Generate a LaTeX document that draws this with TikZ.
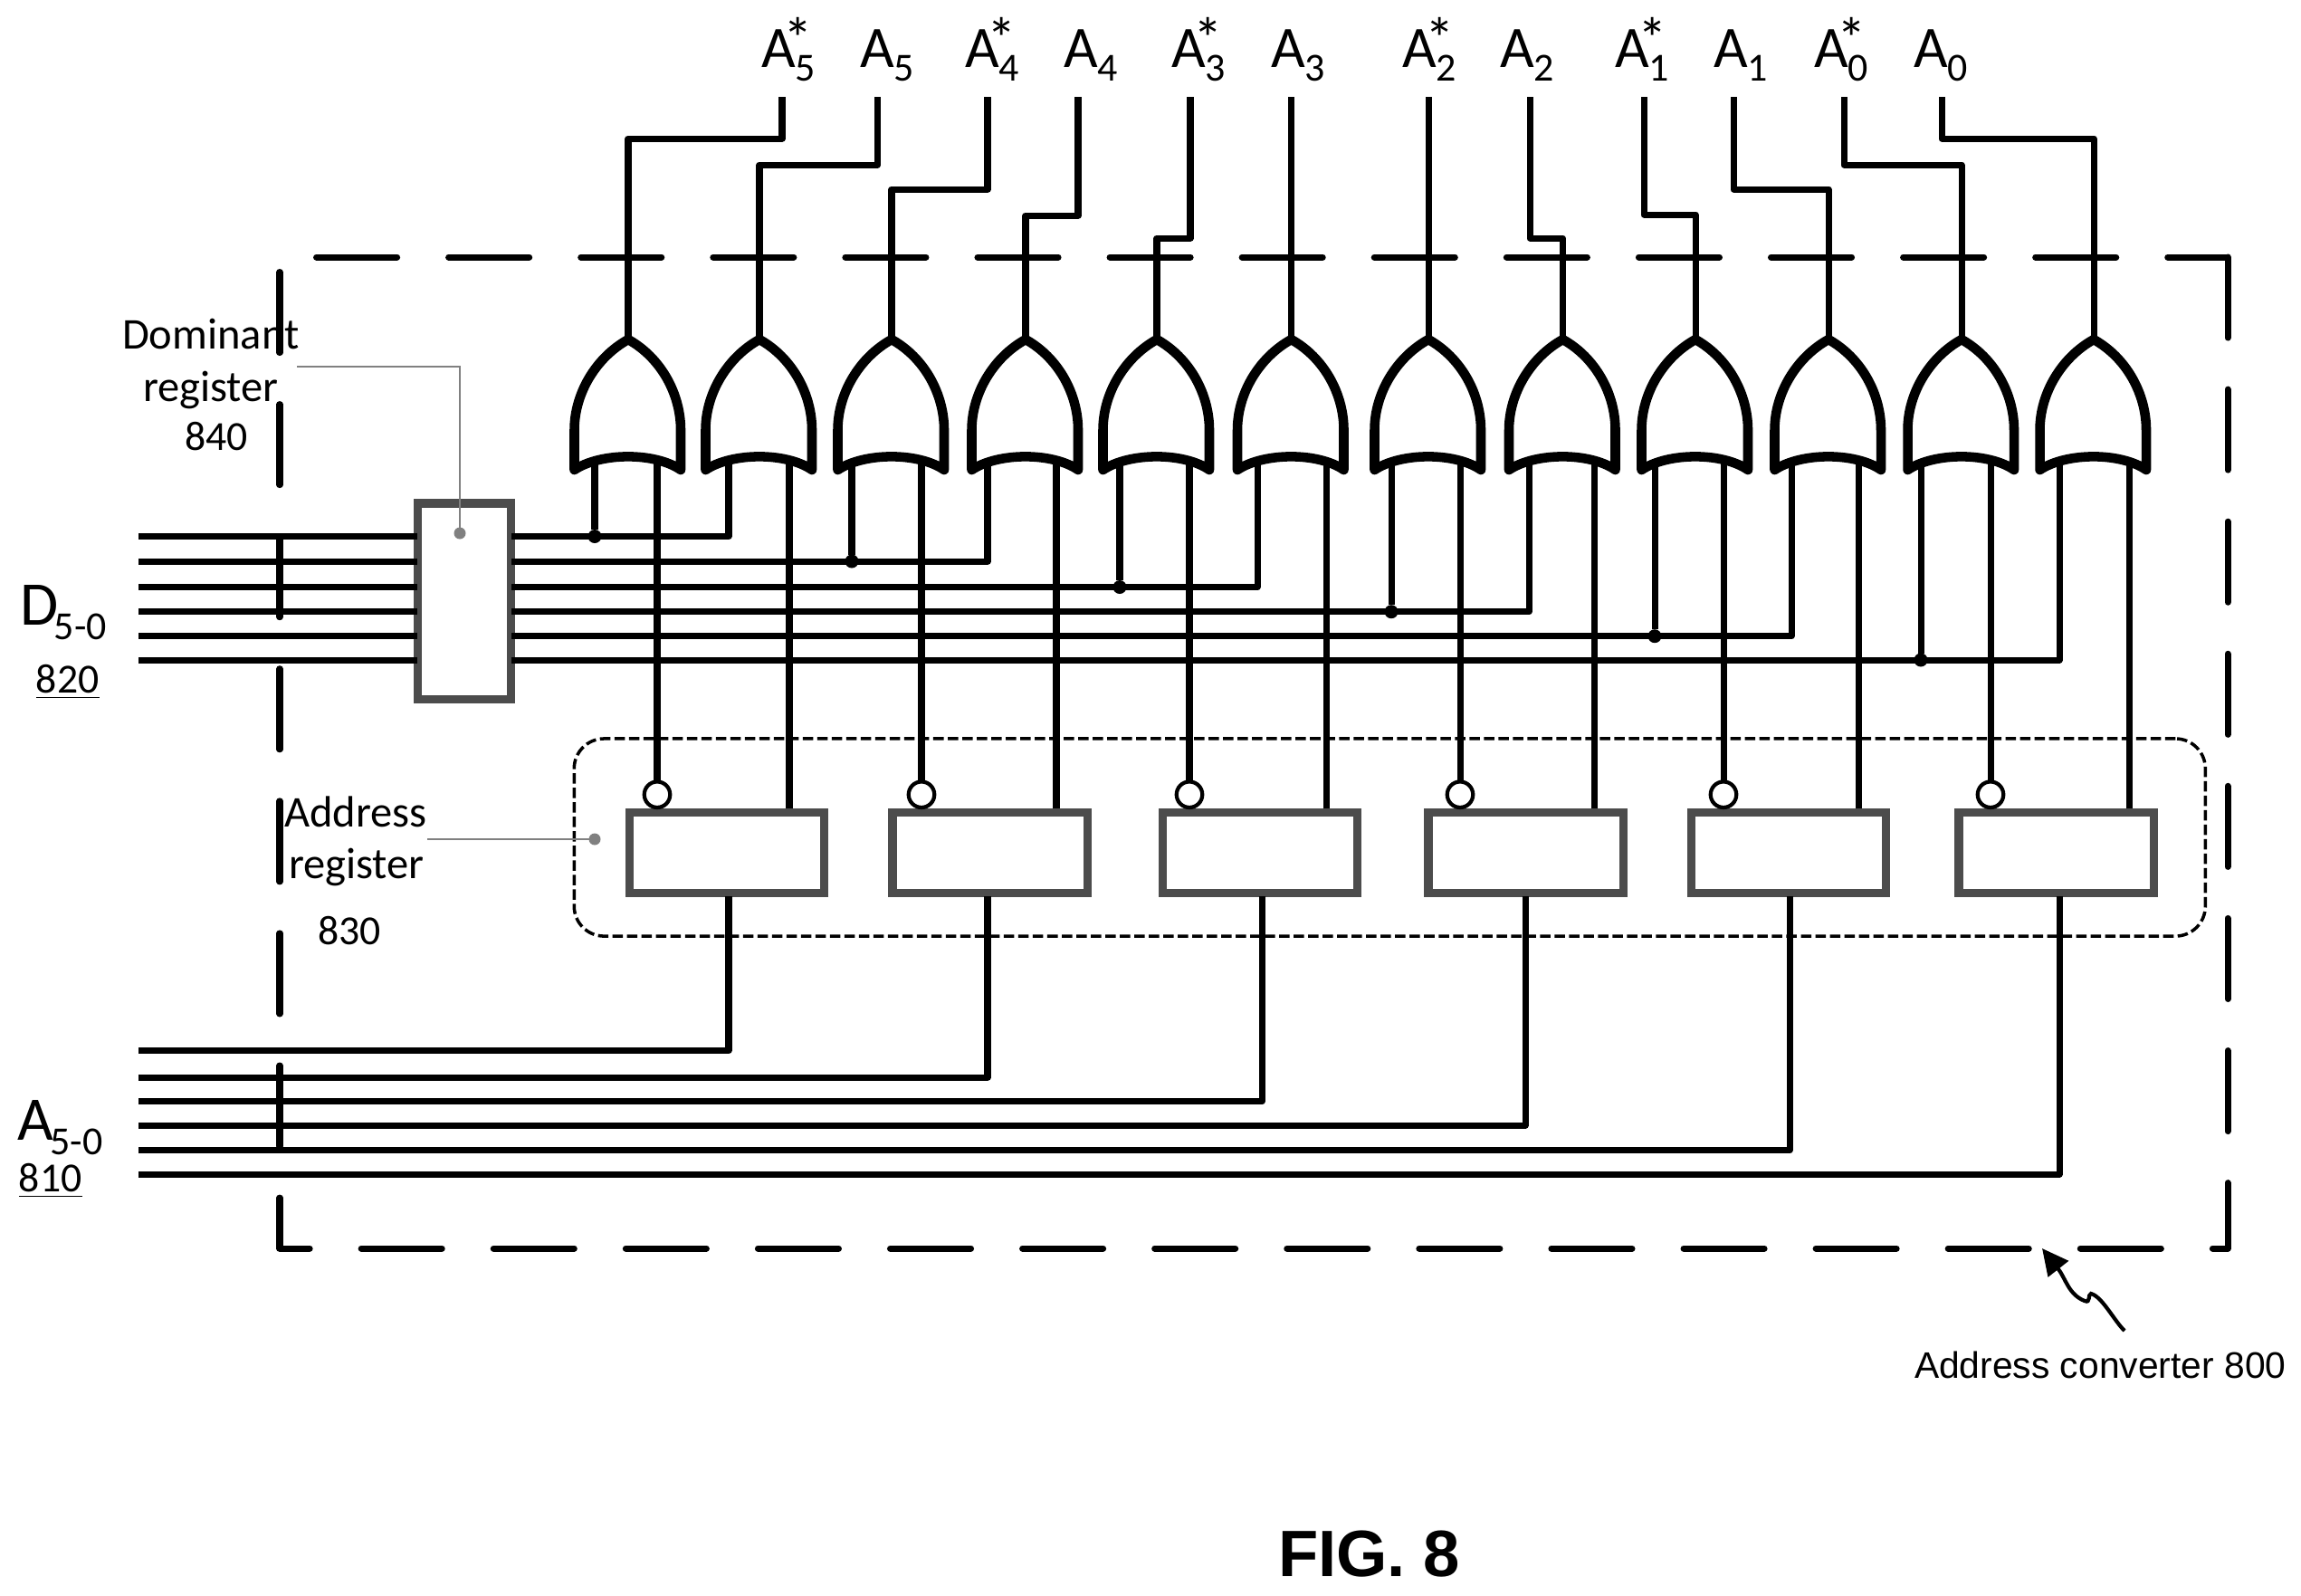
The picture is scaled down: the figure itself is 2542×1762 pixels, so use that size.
\documentclass[tikz,border=0pt]{standalone}
\usepackage{fontspec}
\setmainfont{Carlito}
\newfontfamily\arialfont{Liberation Sans}
\usetikzlibrary{arrows.meta}

\definecolor{regrey}{gray}{0.3}
\tikzset{
  wire/.style={line width=2pt,line join=round},
  gateshape/.style={line width=3pt,line join=round,fill=white},
  regbox/.style={draw=regrey,line width=2.6pt,inner sep=0,outer sep=0,minimum width=2.15cm,minimum height=.89cm},
  bubble/.style={circle,draw,line width=1.2pt,fill=white,inner sep=0,outer sep=0,minimum size=.285cm},
  joint/.style={circle,fill,inner sep=0,outer sep=0,minimum size=.15cm},
  greydot/.style={circle,fill=gray,inner sep=0,outer sep=0,minimum size=.13cm},
  leader/.style={gray,line width=.45pt},
  lab/.style={anchor=base west,inner sep=0,outer sep=0},
}
\newcommand{\smalltext}{\fontsize{13.8}{15}\selectfont}
\newcommand{\numtext}{\fontsize{13}{15}\selectfont}
\newcommand{\outlab}[2]{\fontsize{18.5}{20}\selectfont A\rlap{\kern-3.6pt\raisebox{2.4pt}{#2}}\raisebox{-4.3pt}{\fontsize{12.5}{14}\selectfont #1}}
\newcommand{\buslab}[2]{\fontsize{19.5}{22}\selectfont #1\kern-1.2pt\raisebox{-4.8pt}{\fontsize{12.5}{14}\selectfont #2}}

\begin{document}
\begin{tikzpicture}[x=.01cm,y=-.01cm]
\useasboundingbox (0,0) rectangle (2542,1762);

% converter outline
\draw[line width=2pt,line cap=round,line join=round,dash pattern=on .89cm off .57cm]
  (2461,284) -- (2461,1379) -- (309,1379) -- (309,284) -- cycle;
\node[draw,line width=1pt,rounded corners=.33cm,dash pattern=on .115cm off .045cm,inner sep=0,
  minimum width=18.01cm,minimum height=2.18cm] (adrgroup) at (1535.3,925) {};

% or gates
\foreach \n/\gx in {1/694,2/839,3/985,4/1133,5/1278,6/1426.5,7/1578,8/1726.5,9/1873,10/2020,11/2167,12/2313}{
  \coordinate (g\n) at (\gx,508);
  \coordinate (top\n) at (\gx,375);
}

% output lines, with their labels
\foreach \n/\tx/\dy/\lx/\sub/\st in {1/864/46/841/5/*,2/969.5/75/950/5/,3/1091/102/1066/4/*,4/1191/131/1175/4/,
  5/1315/156/1294/3/*,6/1426.5/0/1404/3/,7/1578/0/1549/2/*,8/1690/156/1657/2/,
  9/1816/130/1784/1/*,10/1915/102/1893/1/,11/2037/75/2004/0/*,12/2145/46/2114/0/}{
  \node[lab] (o\n) at (\lx,74) {\outlab{\sub}{\st}};
  \coordinate (t\n) at (\tx,107);
  \draw[wire] (t\n) -- ++(0,\dy) -| (top\n);
}

\node[regbox,minimum width=1.035cm,minimum height=2.16cm] (domreg) at (513,664) {};

% one row for each address bit
\foreach \r/\rx/\bx/\rin/\da/\db/\yd/\wx/\ya/\ga/\gb in {
  1/803/726/872/657/805/592.5/805/1160.5/1/2,
  2/1093.5/1018/1167/941/1091/620/1091/1190/3/4,
  3/1392/1314/1465/1237/1389/648.5/1394/1216.7/5/6,
  4/1685.5/1613/1761/1537/1689/675.7/1685/1243/7/8,
  5/1976/1904/2053/1828/1979/702.7/1977/1270.7/9/10,
  6/2271.5/2199/2352/2122/2275/729/2275/1297/11/12}{
  \node[regbox] (r\r) at (\rx,942) {};
  \node[bubble] (b\r) at (\bx,877.7) {};
  \coordinate (p\r) at (\rin,893);
  \coordinate (q\r) at (\wx,990);
  \coordinate (dl\r) at (153,\yd);
  \coordinate (al\r) at (153,\ya);
  \coordinate (k\r) at (\db,\yd);
  \draw[wire] (b\r) -- (b\r |- g\ga);
  \draw[wire] (p\r) -- (p\r |- g\gb);
  \draw[wire] (dl\r) -- (dl\r -| domreg.west);
  \draw[wire] (domreg.east |- dl\r) -- (k\r) -- (k\r |- g\gb);
  \draw[wire] (q\r) |- (al\r);
  \node[joint] (j\r) at (\da,\yd) {};
  \draw[wire] (j\r) -- (j\r |- g\ga);
}

\foreach \n/\gx in {1/694,2/839,3/985,4/1133,5/1278,6/1426.5,7/1578,8/1726.5,9/1873,10/2020,11/2167,12/2313}{
  \draw[gateshape] (\gx-59.5,519) -- (\gx-59.5,475) .. controls (\gx-59.5,435) and (\gx-36,395) .. (\gx,375)
    .. controls (\gx+36,395) and (\gx+58,435) .. (\gx+58,475) -- (\gx+58,519)
    .. controls (\gx+30,499.5) and (\gx-30,499.5) .. cycle;
}

% texts on the left
\node[lab] (dom1) at (135,385) {\smalltext Dominant};
\node[lab] (dom2) at (158,443) {\smalltext register};
\node[lab] (dom3) at (204,497) {\numtext 840};
\node[lab] (adr1) at (314,913) {\smalltext Address};
\node[lab] (adr2) at (319,970) {\smalltext register};
\node[lab] (adr3) at (351,1043) {\numtext 830};
\node[lab] (dbus) at (22,690) {\buslab{D}{5-0}};
\node[lab] (dnum) at (40,765) {\numtext\underline{820}};
\node[lab] (abus) at (20,1259) {\buslab{A}{5-0}};
\node[lab] (anum) at (21,1316) {\numtext\underline{810}};

% leaders
\node[greydot] (domdot) at (508,589) {};
\node[greydot] (adrdot) at (657,927) {};
\coordinate (domend) at (328,405);
\coordinate (adrend) at (472,927);
\draw[leader] (domend) -| (domdot);
\draw[leader] (adrend) -- (adrdot);

% converter caption
\coordinate (arrowfoot) at (2347,1470);
\coordinate (arrowtip) at (2256,1379);
\draw[line width=1.2pt,-{Triangle[length=.29cm,width=.28cm]}] (arrowfoot) .. controls (2335,1458) and (2322,1432) .. (2310,1429)
  .. controls (2306,1430) and (2310,1440) .. (2303,1437) .. controls (2285,1430) and (2282,1412) .. (arrowtip);
\node[lab] (convlab) at (2115,1522) {\arialfont\fontsize{11.6}{14}\selectfont Address converter 800};
\node[lab] (figlab) at (1412,1741) {\arialfont\bfseries\fontsize{20.6}{26}\selectfont FIG. 8};
\end{tikzpicture}
\end{document}
